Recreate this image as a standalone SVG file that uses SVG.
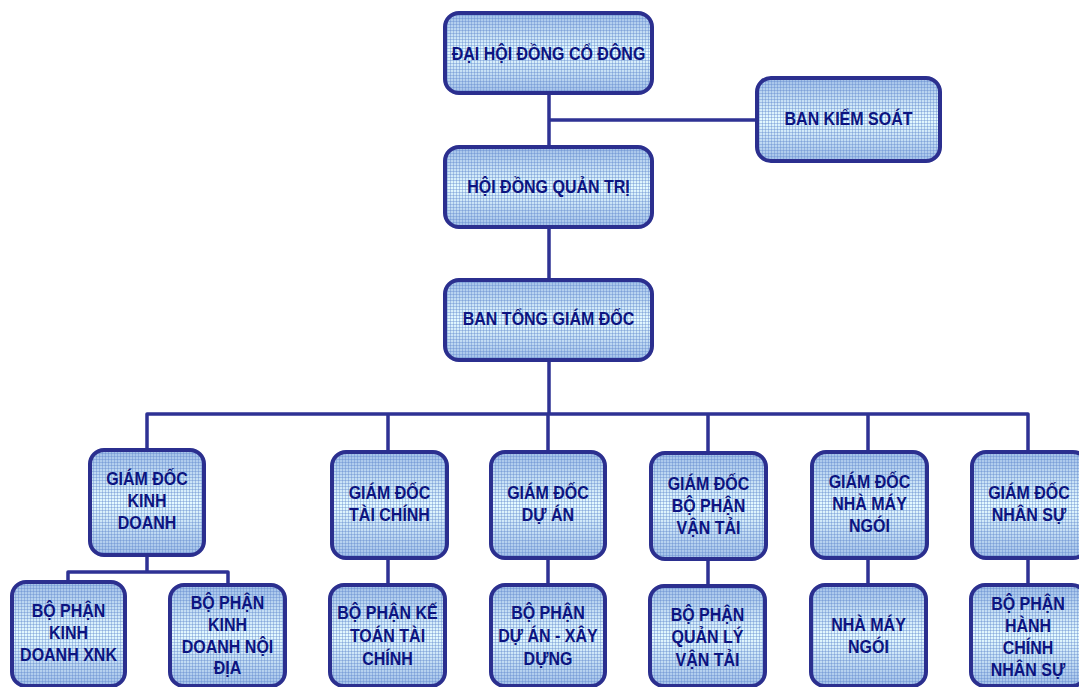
<svg xmlns="http://www.w3.org/2000/svg" width="1079" height="687" viewBox="0 0 1079 687">
<style>
.bg{fill:url(#grad);}
.gr{fill:url(#grid);stroke:#2b2f8f;stroke-width:4;}
.t{font-family:"Liberation Sans",Arial,sans-serif;font-weight:bold;font-size:16px;fill:#0c1480;text-anchor:middle;}
.c{fill:none;stroke:#2e3294;stroke-width:3.5;stroke-linejoin:round;}
</style>
<defs>
<linearGradient id="grad" x1="0" y1="0" x2="0" y2="1">
<stop offset="0" stop-color="#a2c0e8"/>
<stop offset="0.5" stop-color="#e6fbff"/>
<stop offset="1" stop-color="#a2c0e8"/>
</linearGradient>
<pattern id="grid" width="3" height="3" patternUnits="userSpaceOnUse">
<path d="M0 0.5H3M0.5 0V3" stroke="#5f87cc" stroke-opacity="0.4" stroke-width="1" fill="none"/>
</pattern>
</defs>
<rect width="1079" height="687" fill="#ffffff"/>
<g id="connectors">
<path class="c" d="M549 93V147M549 120H757M549 227V280M549 360V414"/>
<path class="c" d="M147 450V414H1028V452M388 414V452M548 414V452M708 414V453M868 414V452"/>
<path class="c" d="M147 555V572M68 582V572H228V585"/>
<path class="c" d="M388 558V585M548 558V585M708 559V586M868 558V585M1028 558V585"/>
</g>
<g id="n-dhdcd">
<rect class="bg" x="445" y="13" width="207" height="80" rx="14"/>
<rect class="gr" x="445" y="13" width="207" height="80" rx="14"/>
<text class="t" transform="translate(548.5,60) scale(1,1.13)">ĐẠI HỘI ĐỒNG CỔ ĐÔNG</text>
</g>
<g id="n-bks">
<rect class="bg" x="757" y="78" width="183" height="83" rx="14"/>
<rect class="gr" x="757" y="78" width="183" height="83" rx="14"/>
<text class="t" transform="translate(848.5,125) scale(1,1.13)">BAN KIỂM SOÁT</text>
</g>
<g id="n-hdqt">
<rect class="bg" x="445" y="147" width="207" height="80" rx="14"/>
<rect class="gr" x="445" y="147" width="207" height="80" rx="14"/>
<text class="t" transform="translate(548.5,193) scale(1,1.13)">HỘI ĐỒNG QUẢN TRỊ</text>
</g>
<g id="n-btgd">
<rect class="bg" x="445" y="280" width="207" height="80" rx="14"/>
<rect class="gr" x="445" y="280" width="207" height="80" rx="14"/>
<text class="t" transform="translate(548.5,325) scale(1,1.13)">BAN TỔNG GIÁM ĐỐC</text>
</g>
<g id="n-gdkd">
<rect class="bg" x="90" y="450" width="114" height="105" rx="14"/>
<rect class="gr" x="90" y="450" width="114" height="105" rx="14"/>
<text class="t" transform="translate(147,485) scale(1,1.13)">GIÁM ĐỐC</text>
<text class="t" transform="translate(147,507) scale(1,1.13)">KINH</text>
<text class="t" transform="translate(147,529) scale(1,1.13)">DOANH</text>
</g>
<g id="n-gdtc">
<rect class="bg" x="332" y="452" width="115" height="106" rx="14"/>
<rect class="gr" x="332" y="452" width="115" height="106" rx="14"/>
<text class="t" transform="translate(389.5,499) scale(1,1.13)">GIÁM ĐỐC</text>
<text class="t" transform="translate(389.5,521) scale(1,1.13)">TÀI CHÍNH</text>
</g>
<g id="n-gdda">
<rect class="bg" x="491" y="452" width="114" height="106" rx="14"/>
<rect class="gr" x="491" y="452" width="114" height="106" rx="14"/>
<text class="t" transform="translate(548,499) scale(1,1.13)">GIÁM ĐỐC</text>
<text class="t" transform="translate(548,521) scale(1,1.13)">DỰ ÁN</text>
</g>
<g id="n-gdvt">
<rect class="bg" x="651" y="453" width="115" height="106" rx="14"/>
<rect class="gr" x="651" y="453" width="115" height="106" rx="14"/>
<text class="t" transform="translate(708.5,490) scale(1,1.13)">GIÁM ĐỐC</text>
<text class="t" transform="translate(708.5,512) scale(1,1.13)">BỘ PHẬN</text>
<text class="t" transform="translate(708.5,534) scale(1,1.13)">VẬN TẢI</text>
</g>
<g id="n-gdnmn">
<rect class="bg" x="812" y="452" width="115" height="106" rx="14"/>
<rect class="gr" x="812" y="452" width="115" height="106" rx="14"/>
<text class="t" transform="translate(869.5,488) scale(1,1.13)">GIÁM ĐỐC</text>
<text class="t" transform="translate(869.5,510) scale(1,1.13)">NHÀ MÁY</text>
<text class="t" transform="translate(869.5,532) scale(1,1.13)">NGÓI</text>
</g>
<g id="n-gdns">
<rect class="bg" x="972" y="452" width="115" height="106" rx="14"/>
<rect class="gr" x="972" y="452" width="115" height="106" rx="14"/>
<text class="t" transform="translate(1029,499) scale(1,1.13)">GIÁM ĐỐC</text>
<text class="t" transform="translate(1029,521) scale(1,1.13)">NHÂN SỰ</text>
</g>
<g id="n-xnk">
<rect class="bg" x="12" y="582" width="113" height="104" rx="14"/>
<rect class="gr" x="12" y="582" width="113" height="104" rx="14"/>
<text class="t" transform="translate(68.5,617) scale(1,1.13)">BỘ PHẬN</text>
<text class="t" transform="translate(68.5,639) scale(1,1.13)">KINH</text>
<text class="t" transform="translate(68.5,661) scale(1,1.13)">DOANH XNK</text>
</g>
<g id="n-noidia">
<rect class="bg" x="170" y="585" width="115" height="101" rx="14"/>
<rect class="gr" x="170" y="585" width="115" height="101" rx="14"/>
<text class="t" transform="translate(227.5,609) scale(1,1.13)">BỘ PHẬN</text>
<text class="t" transform="translate(227.5,631) scale(1,1.13)">KINH</text>
<text class="t" transform="translate(227.5,653) scale(1,1.13)">DOANH NỘI</text>
<text class="t" transform="translate(227.5,674) scale(1,1.13)">ĐỊA</text>
</g>
<g id="n-ketoan">
<rect class="bg" x="330" y="585" width="115" height="101" rx="14"/>
<rect class="gr" x="330" y="585" width="115" height="101" rx="14"/>
<text class="t" transform="translate(387.5,619) scale(1,1.13)">BỘ PHẬN KẾ</text>
<text class="t" transform="translate(387.5,642) scale(1,1.13)">TOÁN TÀI</text>
<text class="t" transform="translate(387.5,665) scale(1,1.13)">CHÍNH</text>
</g>
<g id="n-duan">
<rect class="bg" x="491" y="585" width="114" height="101" rx="14"/>
<rect class="gr" x="491" y="585" width="114" height="101" rx="14"/>
<text class="t" transform="translate(548,619) scale(1,1.13)">BỘ PHẬN</text>
<text class="t" transform="translate(548,642) scale(1,1.13)">DỰ ÁN - XÂY</text>
<text class="t" transform="translate(548,665) scale(1,1.13)">DỰNG</text>
</g>
<g id="n-qlvt">
<rect class="bg" x="650" y="586" width="115" height="100" rx="14"/>
<rect class="gr" x="650" y="586" width="115" height="100" rx="14"/>
<text class="t" transform="translate(707.5,621) scale(1,1.13)">BỘ PHẬN</text>
<text class="t" transform="translate(707.5,643) scale(1,1.13)">QUẢN LÝ</text>
<text class="t" transform="translate(707.5,666) scale(1,1.13)">VẬN TẢI</text>
</g>
<g id="n-nmn">
<rect class="bg" x="811" y="585" width="115" height="101" rx="14"/>
<rect class="gr" x="811" y="585" width="115" height="101" rx="14"/>
<text class="t" transform="translate(868.5,631) scale(1,1.13)">NHÀ MÁY</text>
<text class="t" transform="translate(868.5,653) scale(1,1.13)">NGÓI</text>
</g>
<g id="n-hcns">
<rect class="bg" x="971" y="585" width="115" height="101" rx="14"/>
<rect class="gr" x="971" y="585" width="115" height="101" rx="14"/>
<text class="t" transform="translate(1028,610) scale(1,1.13)">BỘ PHẬN</text>
<text class="t" transform="translate(1028,632) scale(1,1.13)">HÀNH</text>
<text class="t" transform="translate(1028,654) scale(1,1.13)">CHÍNH</text>
<text class="t" transform="translate(1028,676) scale(1,1.13)">NHÂN SỰ</text>
</g>
</svg>
